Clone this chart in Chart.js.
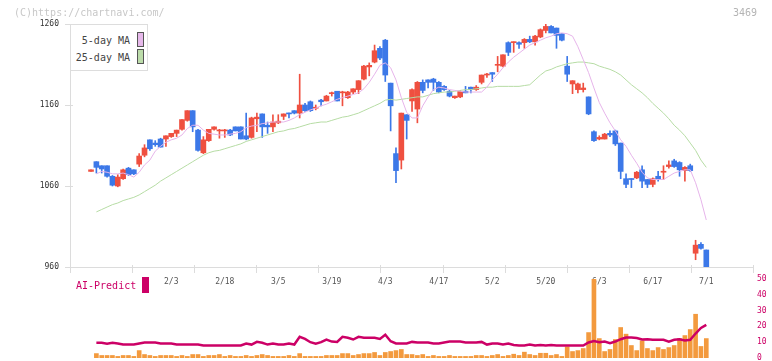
<!DOCTYPE html>
<html>
<head>
<meta charset="utf-8">
<script src="https://cdn.jsdelivr.net/npm/chart.js@4.4.1/dist/chart.umd.min.js"></script>
<style>
  body { margin: 0; background: #fff; }
  #wrap { position: relative; width: 772px; height: 361px; overflow: hidden; font-family: 'DejaVu Sans Mono', monospace; }
  canvas { position: absolute; left: 0; }
  .t { position: absolute; font-size: 10px; line-height: 12px; white-space: nowrap; }
  #legend { position: absolute; left: 70px; top: 24px; width: 78px; height: 47px; box-sizing: border-box; border: 1px solid #ddd; background: #fff; }
  #legend .lbl { position: absolute; left: 0; width: 59px; text-align: right; color: #444; font-size: 10px; line-height: 12px; }
  #legend .sw { position: absolute; left: 66px; width: 7px; box-sizing: border-box; border: 1px solid #555; }
</style>
</head>
<body>
<div id="wrap">
  <canvas id="main" width="772" height="300" style="top:0"></canvas>
  <canvas id="sub" width="772" height="91" style="top:270px"></canvas>
  <div class="t" style="left:14px;top:7px;color:#c8c8c8">(C)https://chartnavi.com/</div>
  <div class="t" style="left:733px;top:7px;color:#b4b4b4">3469</div>
  <div id="legend">
    <div class="lbl" style="top:10px">5-day MA</div>
    <div class="sw" style="top:7px;height:15px;background:#e6b8ea"></div>
    <div class="lbl" style="top:27px">25-day MA</div>
    <div class="sw" style="top:24px;height:15px;background:#bcdcaa"></div>
  </div>
  <div class="t" style="left:76px;top:280px;color:#cc0066">AI-Predict</div>
  <div style="position:absolute;left:142px;top:277px;width:7px;height:16px;background:#cc0066"></div>
</div>
<script>
const dates = ['1/10','1/14','1/15','1/16','1/17','1/20','1/21','1/22','1/23','1/24',
  '1/27','1/28','1/29','1/30','1/31','2/3','2/4','2/5','2/6','2/7',
  '2/10','2/12','2/13','2/14','2/17','2/18','2/19','2/20','2/21','2/25',
  '2/26','2/27','2/28','3/3','3/4','3/5','3/6','3/7','3/10','3/11',
  '3/12','3/13','3/14','3/17','3/18','3/19','3/21','3/24','3/25','3/26',
  '3/27','3/28','3/31','4/1','4/2','4/3','4/4','4/7','4/8','4/9',
  '4/10','4/11','4/14','4/15','4/16','4/17','4/18','4/21','4/22','4/23',
  '4/24','4/25','4/28','4/30','5/1','5/2','5/7','5/8','5/9','5/12',
  '5/13','5/14','5/15','5/16','5/19','5/20','5/21','5/22','5/23','5/26',
  '5/27','5/28','5/29','5/30','6/2','6/3','6/4','6/5','6/6','6/9',
  '6/10','6/11','6/12','6/13','6/16','6/17','6/18','6/19','6/20','6/23',
  '6/24','6/25','6/26','6/27','6/30','7/1'];

const shownDates = ['2/3','2/18','3/5','3/19','4/3','4/17','5/2','5/20','6/3','6/17','7/1'];
const priceTicks = [960, 1060, 1160, 1260];

const opens = [1078,1090,1085,1085,1072,1060,1069,1082,1080,1087,
  1098,1117,1113,1118,1118,1121,1125,1130,1141,1153,
  1129,1101,1116,1130,1128,1128,1129,1133,1133,1122,
  1120,1143,1149,1135,1133,1138,1146,1150,1153,1150,
  1160,1164,1156,1166,1165,1174,1177,1175,1169,1176,
  1179,1192,1207,1213,1230,1240,1187,1100,1092,1148,
  1165,1155,1188,1191,1192,1188,1183,1177,1169,1170,
  1177,1182,1179,1188,1197,1200,1209,1208,1237,1237,
  1237,1237,1241,1238,1244,1252,1257,1255,1248,1208,
  1186,1179,1179,1170,1127,1118,1118,1125,1128,1113,
  1069,1069,1070,1080,1068,1062,1072,1077,1084,1091,
  1089,1079,1085,977,988,981];

const highs = [1080,1090,1085,1085,1073,1074,1081,1083,1080,1100,
  1111,1117,1116,1119,1122,1125,1129,1142,1153,1153,
  1130,1121,1130,1133,1130,1130,1130,1133,1133,1150,
  1145,1150,1149,1139,1148,1148,1149,1150,1153,1198,
  1162,1165,1160,1167,1172,1176,1177,1177,1177,1180,
  1190,1209,1212,1234,1232,1241,1187,1107,1150,1148,
  1180,1189,1191,1191,1193,1189,1184,1178,1171,1178,
  1183,1182,1184,1197,1199,1200,1220,1222,1238,1238,
  1238,1242,1245,1246,1254,1260,1258,1255,1248,1220,
  1190,1187,1187,1170,1128,1122,1125,1128,1129,1113,
  1075,1069,1078,1085,1068,1070,1078,1085,1091,1093,
  1090,1084,1087,993,990,981];

const lows = [1078,1076,1076,1071,1060,1059,1068,1073,1074,1084,
  1096,1104,1109,1108,1109,1120,1121,1129,1140,1127,
  1103,1100,1115,1129,1119,1120,1122,1128,1118,1117,
  1119,1127,1120,1125,1127,1137,1142,1144,1149,1144,
  1152,1152,1154,1159,1165,1171,1165,1159,1168,1174,
  1174,1191,1196,1212,1216,1189,1128,1064,1081,1118,
  1152,1138,1175,1181,1178,1175,1178,1170,1168,1169,
  1175,1175,1178,1186,1194,1189,1201,1207,1221,1225,
  1230,1230,1237,1234,1243,1249,1249,1230,1239,1189,
  1174,1175,1176,1148,1115,1117,1118,1121,1110,1069,
  1058,1058,1069,1058,1058,1059,1066,1068,1082,1083,
  1072,1066,1078,969,982,955];

const closes = [1080,1083,1081,1072,1061,1071,1080,1074,1075,1097,
  1107,1106,1111,1108,1122,1125,1129,1142,1153,1133,
  1104,1117,1130,1133,1129,1129,1123,1128,1118,1118,
  1144,1145,1133,1133,1139,1140,1149,1149,1150,1160,
  1153,1153,1157,1164,1171,1175,1165,1176,1176,1180,
  1190,1208,1209,1227,1218,1197,1159,1079,1150,1141,
  1179,1188,1178,1188,1188,1176,1179,1171,1171,1177,
  1175,1179,1182,1197,1198,1198,1210,1222,1225,1238,
  1235,1241,1238,1245,1253,1257,1249,1246,1240,1198,
  1190,1186,1181,1149,1116,1120,1124,1123,1112,1078,
  1062,1068,1077,1066,1062,1069,1068,1078,1086,1084,
  1080,1083,1079,987,983,955];

const ma5 = [null,1075,1078,1077,1075,1075,1076,1074,1071,1077,
  1086,1092,1103,1109,1114,1117,1119,1123,1131,1135,
  1135,1129,1125,1124,1123,1123,1124,1125,1127,1132,
  1134,1135,1137,1138,1139,1139,1139,1141,1144,1148,
  1151,1154,1156,1159,1161,1164,1167,1169,1171,1173,
  1175,1180,1188,1198,1209,1212,1206,1191,1169,1151,
  1144,1144,1159,1170,1179,1182,1181,1179,1178,1177,
  1176,1176,1176,1176,1182,1191,1198,1206,1213,1219,
  1224,1229,1234,1237,1240,1243,1245,1248,1249,1248,
  1245,1232,1216,1200,1181,1163,1150,1138,1128,1117,
  1109,1098,1088,1077,1070,1068,1068,1068,1072,1076,
  1078,1080,1080,1064,1043,1018];

const ma25 = [null,1028,1031,1034,1037,1039,1042,1044,1046,1049,
  1053,1057,1061,1066,1070,1074,1078,1082,1086,1090,
  1094,1098,1101,1103,1104,1106,1108,1110,1112,1115,
  1117,1119,1121,1123,1125,1127,1128,1130,1131,1133,
  1135,1137,1138,1139,1139,1141,1143,1145,1146,1148,
  1150,1153,1156,1159,1162,1166,1167,1166,1167,1168,
  1169,1170,1170,1172,1174,1175,1176,1176,1177,1178,
  1179,1179,1180,1181,1182,1182,1183,1183,1183,1183,
  1183,1184,1185,1191,1197,1202,1204,1207,1209,1211,
  1212,1213,1213,1212,1211,1208,1206,1204,1201,1197,
  1191,1185,1180,1175,1169,1162,1156,1150,1143,1135,
  1129,1122,1113,1104,1092,1083];

// lower panel: AI-Predict bars and line
const aiBars = [null,2.8,1.6,1.6,1.6,1.0,1.6,1.6,1.0,4.7,
  2.2,1.6,1.0,1.6,1.6,1.6,1.0,1.6,1.0,2.2,
  2.2,1.0,1.6,1.6,2.2,1.0,1.6,1.0,1.0,1.6,
  1.0,1.6,2.2,1.6,1.0,1.0,1.0,1.6,1.0,2.8,
  1.0,1.0,1.0,1.0,1.6,1.6,1.6,2.8,2.8,1.6,
  2.2,2.8,2.8,3.5,1.6,3.5,4.1,4.7,5.4,2.2,
  2.2,1.6,2.2,1.0,1.6,1.0,1.0,1.6,1.0,1.0,
  1.0,1.0,1.6,1.6,1.0,1.6,2.2,1.0,1.6,2.4,
  1.6,3.7,2.2,1.6,3.0,3.0,1.6,2.2,1.0,7.1,
  4.1,4.7,6.0,16.1,50,12.3,4.1,5.4,11.7,19.3,
  15.1,7.9,4.7,10.9,6.0,4.7,6.6,5.4,6.6,7.9,
  12.3,14.2,18.0,27.7,7.3,12.3];

const aiLine = [null,9.6,9.6,9.0,9.6,9.2,8.5,8.5,8.5,9.2,
  9.8,9.8,9.8,9.2,9.2,9.2,8.5,8.5,8.5,8.5,
  8.5,7.9,7.9,7.9,7.9,7.9,7.9,7.9,7.9,9.2,
  8.5,10.2,9.6,8.5,9.2,8.5,8.5,9.2,8.5,13.4,
  12.1,10.0,9.0,10.0,11.7,10.4,10.2,13.4,12.8,11.7,
  13.4,12.8,12.8,12.8,12.1,14.7,10.6,9.2,9.2,9.2,
  10.2,9.8,9.8,9.8,9.2,9.2,9.8,10.4,10.4,10.4,
  9.8,9.8,9.8,10.2,8.5,9.2,9.2,8.5,9.2,8.2,
  7.9,7.9,8.6,7.9,8.2,7.9,8.2,7.9,7.9,7.9,
  7.9,7.9,7.9,9.8,10.8,10.0,10.4,9.4,10.4,11.9,
  13.0,13.0,12.6,11.7,11.9,11.5,11.5,11.5,10.4,11.5,
  11.9,11.1,11.5,15.5,19.0,21.0];

const RED = '#ef5040';
const BLUE = '#3c78e8';
const X_MIN = -3.93, X_MAX = 123.73;

Chart.defaults.font.family = "'DejaVu Sans Mono', monospace";
Chart.defaults.animation = false;

const idx = dates.map((d, i) => i);
const candleColor = idx.map(i => closes[i] >= opens[i] ? RED : BLUE);
const pts = arr => idx.map(i => ({ x: i, y: arr[i] }));

// frame ticks: 11 even divisions on the bottom axis, crossing marks on the price axis
const frameTicks = {
  id: 'frameTicks',
  afterDraw(chart) {
    const { ctx, chartArea: a, scales } = chart;
    ctx.save();
    ctx.strokeStyle = '#dcdcdc';
    ctx.lineWidth = 1;
    ctx.beginPath();
    for (let k = 0; k <= 11; k++) {
      const x = Math.round(a.left + k * (a.right - a.left) / 11) + 0.5;
      ctx.moveTo(x, a.bottom - 2);
      ctx.lineTo(x, a.bottom + 6);
    }
    priceTicks.forEach(v => {
      const y = Math.round(scales.y.getPixelForValue(v)) + 0.5;
      ctx.moveTo(a.left - 5, y);
      ctx.lineTo(a.left + 3, y);
    });
    ctx.stroke();
    ctx.restore();
  }
};

new Chart(document.getElementById('main'), {
  type: 'bar',
  data: {
    datasets: [
      { type: 'line', data: pts(ma5), borderColor: '#e6b4ea', borderWidth: 1, pointRadius: 0, order: 0 },
      { type: 'line', data: pts(ma25), borderColor: '#b6dca4', borderWidth: 1, pointRadius: 0, order: 0 },
      { data: idx.map(i => ({ x: i, y: [opens[i], closes[i]] })), backgroundColor: candleColor,
        barThickness: 5, minBarLength: 1, grouped: false, clip: 0, order: 1 },
      { data: idx.map(i => ({ x: i, y: [lows[i], highs[i]] })), backgroundColor: candleColor,
        barThickness: 1, grouped: false, clip: 0, order: 2 }
    ]
  },
  options: {
    responsive: false,
    devicePixelRatio: 1,
    layout: { padding: { top: 24, right: 19, left: 0, bottom: 0 } },
    plugins: { legend: { display: false }, tooltip: { enabled: false } },
    scales: {
      x: {
        type: 'linear', min: X_MIN, max: X_MAX, offset: false,
        afterBuildTicks: s => { s.ticks = shownDates.map(d => ({ value: dates.indexOf(d) })); },
        ticks: { callback: v => dates[v], font: { size: 8 }, color: '#555', padding: 10, maxRotation: 0, autoSkip: false },
        grid: { display: false, drawTicks: false },
        border: { display: true, color: '#dcdcdc' },
        afterFit: s => { s.height = 33; s.paddingLeft = 0; s.paddingRight = 0; }
      },
      y: {
        min: 960, max: 1260,
        afterBuildTicks: s => { s.ticks = priceTicks.map(v => ({ value: v })); },
        ticks: { callback: v => String(v), font: { size: 8 }, color: '#333', padding: 11 },
        grid: { display: false, drawTicks: false },
        border: { display: true, color: '#dcdcdc' },
        afterFit: s => { s.width = 70; s.paddingTop = 0; s.paddingBottom = 0; }
      }
    }
  },
  plugins: [frameTicks]
});

new Chart(document.getElementById('sub'), {
  type: 'bar',
  data: {
    datasets: [
      { type: 'line', data: pts(aiLine), borderColor: '#cc0066', borderWidth: 2.5, pointRadius: 0, order: 0 },
      { data: pts(aiBars), backgroundColor: '#f39a3e', barThickness: 4, grouped: false, clip: 0, order: 1 }
    ]
  },
  options: {
    responsive: false,
    devicePixelRatio: 1,
    layout: { padding: { top: 9, right: 0, left: 70, bottom: 3 } },
    plugins: { legend: { display: false }, tooltip: { enabled: false } },
    scales: {
      x: { type: 'linear', min: X_MIN, max: X_MAX, offset: false, display: false },
      y: {
        position: 'right', min: 0, max: 50,
        ticks: { stepSize: 10, font: { size: 8 }, color: '#cc0066', padding: 4 },
        grid: { display: false, drawTicks: false },
        border: { display: false },
        afterFit: s => { s.width = 19; s.paddingTop = 0; s.paddingBottom = 0; }
      }
    }
  }
});
</script>
</body>
</html>
